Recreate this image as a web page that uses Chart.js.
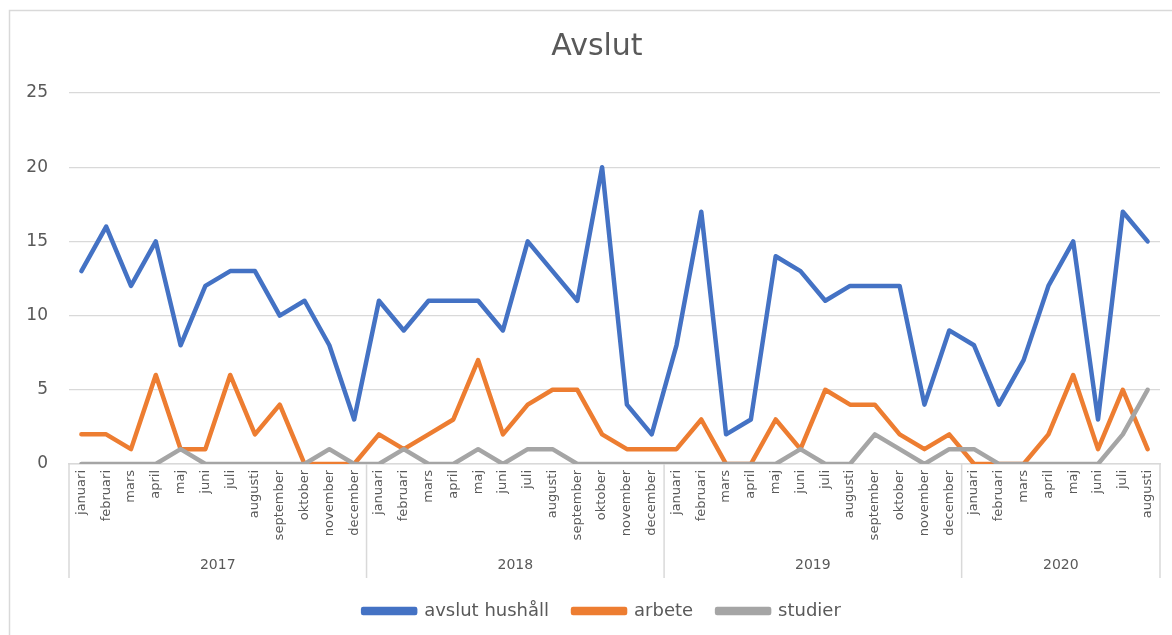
<!DOCTYPE html>
<html>
<head>
<meta charset="utf-8">
<title>Avslut</title>
<script src="https://cdn.jsdelivr.net/npm/chart.js@4.4.1/dist/chart.umd.min.js"></script>
<style>
    html, body { margin: 0; padding: 0; background: #fff; }
    #wrap { width: 1172px; height: 635px; }
</style>
</head>
<body>
<div id="wrap"><canvas id="chartAvslut"></canvas></div>
<script>
const manader = ['januari', 'februari', 'mars', 'april', 'maj', 'juni', 'juli', 'augusti', 'september', 'oktober', 'november', 'december'];
const ar = ['2017', '2018', '2019', '2020'];
const manaderPerAr = [12, 12, 12, 8];

const hushall = [13, 16, 12, 15, 8, 12, 13, 13, 10, 11, 8, 3,
                 11, 9, 11, 11, 11, 9, 15, 13, 11, 20, 4, 2,
                 8, 17, 2, 3, 14, 13, 11, 12, 12, 12, 4, 9,
                 8, 4, 7, 12, 15, 3, 17, 15];
const arbete = [2, 2, 1, 6, 1, 1, 6, 2, 4, 0, 0, 0,
                2, 1, 2, 3, 7, 2, 4, 5, 5, 2, 1, 1,
                1, 3, 0, 0, 3, 1, 5, 4, 4, 2, 1, 2,
                0, 0, 0, 2, 6, 1, 5, 1];
const studier = [0, 0, 0, 0, 1, 0, 0, 0, 0, 0, 1, 0,
                 0, 1, 0, 0, 1, 0, 1, 1, 0, 0, 0, 0,
                 0, 0, 0, 0, 0, 1, 0, 0, 2, 1, 0, 1,
                 1, 0, 0, 0, 0, 0, 2, 5];
const yMax = 25;
const yStep = 5;

const etiketter = [];
ar.forEach((a, i) => manader.slice(0, manaderPerAr[i]).forEach(m => etiketter.push(m)));

const textFarg = '#595959';
const linjeFarg = '#d9d9d9';
const typsnitt = '"DejaVu Sans", sans-serif';

// ram runt diagrammet + årsrad under månaderna
const arPlugin = {
    id: 'arPlugin',
    afterLayout(chart) {
        // diagrammet i originalet är bredare än bilden, titel och förklaring sitter lite till höger
        chart.titleBlock.left += 34;
        chart.legend.left += 44;
    },
    beforeDraw(chart) {
        const ctx = chart.ctx;
        ctx.save();
        ctx.fillStyle = '#fff';
        ctx.fillRect(0, 0, chart.width, chart.height);
        ctx.strokeStyle = linjeFarg;
        ctx.lineWidth = 1.5;
        ctx.beginPath();
        ctx.moveTo(9.5, chart.height);
        ctx.lineTo(9.5, 10.5);
        ctx.lineTo(chart.width, 10.5);
        ctx.stroke();
        ctx.restore();
    },
    afterDraw(chart) {
        const x = chart.scales.x;
        const ctx = chart.ctx;
        const steg = x.getPixelForValue(1) - x.getPixelForValue(0);
        const granser = [x.getPixelForValue(0) - steg / 2];
        ctx.save();
        ctx.fillStyle = textFarg;
        ctx.font = '14px ' + typsnitt;
        ctx.textAlign = 'center';
        ctx.textBaseline = 'middle';
        let start = 0;
        ar.forEach((a, i) => {
            const slut = start + manaderPerAr[i];
            const x0 = x.getPixelForValue(start) - steg / 2;
            const x1 = x.getPixelForValue(slut - 1) + steg / 2;
            ctx.fillText(a, (x0 + x1) / 2, x.bottom - 13);
            granser.push(x1);
            start = slut;
        });
        ctx.strokeStyle = linjeFarg;
        ctx.lineWidth = 1.5;
        granser.forEach(g => {
            ctx.beginPath();
            ctx.moveTo(g, x.top);
            ctx.lineTo(g, x.bottom);
            ctx.stroke();
        });
        ctx.restore();
    }
};

const serie = (label, data, farg, ordning) => ({
    label, data,
    borderColor: farg, backgroundColor: farg,
    borderWidth: 4.5, pointRadius: 0, tension: 0,
    borderJoinStyle: 'round', borderCapStyle: 'round',
    fill: false, order: ordning
});

new Chart(document.getElementById('chartAvslut'), {
    type: 'line',
    data: {
        labels: etiketter,
        datasets: [
            serie('avslut hushåll', hushall, '#4472c4', 2),
            serie('arbete', arbete, '#ed7d31', 1),
            serie('studier', studier, '#a5a5a5', 0)
        ]
    },
    options: {
        responsive: true,
        maintainAspectRatio: false,
        animation: false,
        layout: { padding: { top: 29, right: 12, bottom: 5, left: 0 } },
        plugins: {
            title: {
                display: true, text: 'Avslut', color: textFarg,
                font: { family: typsnitt, size: 30, weight: 'normal' },
                padding: { top: 0, bottom: 28 }
            },
            legend: {
                position: 'bottom',
                labels: {
                    color: textFarg, font: { family: typsnitt, size: 18 },
                    boxWidth: 52, boxHeight: 4, padding: 24,
                    sort: (a, b) => a.datasetIndex - b.datasetIndex
                }
            },
            tooltip: { enabled: false }
        },
        scales: {
            x: {
                offset: true,
                grid: { display: false, drawTicks: false },
                border: { display: true, color: linjeFarg, width: 1.5 },
                ticks: {
                    autoSkip: false, minRotation: 90, maxRotation: 90, padding: 6,
                    color: textFarg, font: { family: typsnitt, size: 13 }
                },
                afterFit(scale) { scale.height = 114; }
            },
            y: {
                min: 0, max: yMax,
                grid: { color: linjeFarg, lineWidth: 1.3, drawTicks: false },
                border: { display: false },
                ticks: {
                    stepSize: yStep, padding: 21,
                    color: textFarg, font: { family: typsnitt, size: 17 }
                },
                afterFit(scale) { scale.width = 69; }
            }
        }
    },
    plugins: [arPlugin]
});
</script>
</body>
</html>
